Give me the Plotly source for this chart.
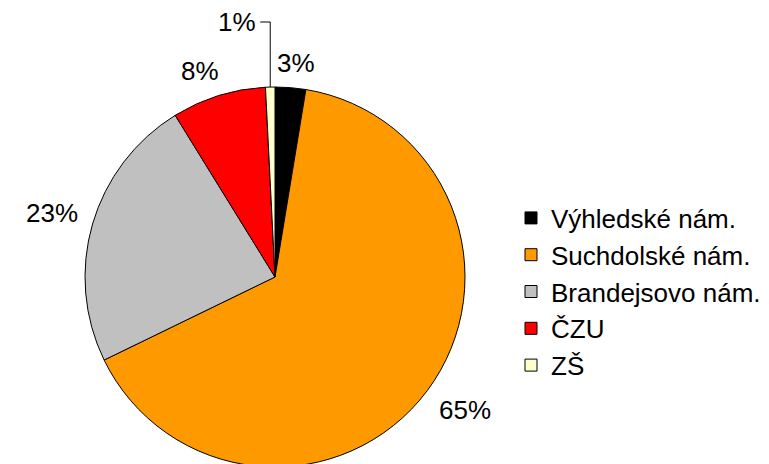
import math
import plotly.graph_objects as go

labels = ["Výhledské nám.", "Suchdolské nám.", "Brandejsovo nám.", "ČZU", "ZŠ"]
values = [2.6, 65.2, 23.4, 8.0, 0.8]
colors = ["#000000", "#FF9900", "#C0C0C0", "#FF0000", "#FFFFCC"]

W, H = 769, 464
OFF = 8  # page body margin in the browser
CX, CY, R = 275 - OFF, 277 - OFF, 190
FONT = "Liberation Sans, Arial, sans-serif"
FS = 26


def px(x):
    return x / W


def py(y):
    return 1 - y / H


def clip(a):
    return max(-1.0, min(1.0, a))


fig = go.Figure(go.Pie(
    labels=labels, values=values, sort=False, direction="clockwise", rotation=0,
    marker=dict(colors=colors, line=dict(color="black", width=1)),
    textinfo="none", hoverinfo="label+percent",
    domain=dict(x=[px(CX - R), px(CX + R)], y=[max(0, py(CY + R)), py(CY - R)]),
))

total = sum(values)
cum = 0
annotations = []
shapes = []
for v in values:
    mid = (cum + v / 2) / total * 2 * math.pi
    cum += v
    ux, uy = math.sin(mid), -math.cos(mid)
    pct = round(v / total * 100)
    txt = f"{pct}%"
    if v / total < 0.015:
        ex, ey = CX + R * ux, CY + R * uy
        ty = CY - R - 65
        shapes.append(dict(type="path", xref="paper", yref="paper",
                           path=f"M {px(ex)} {py(ey)} L {px(ex)} {py(ty)} L {px(ex - 10)} {py(ty)}",
                           line=dict(color="black", width=1)))
        annotations.append(dict(x=px(ex - 12), y=py(ty), xref="paper", yref="paper",
                                text=txt, showarrow=False, xanchor="right", yanchor="middle",
                                font=dict(size=FS, color="black", family=FONT)))
    else:
        gap = 15
        hw = (0.556 * len(str(pct)) + 0.889) * FS / 2
        hh = 10
        tx = CX + (R + gap) * ux + hw * clip(2.5 * ux)
        ty = CY + (R + gap) * uy + hh * clip(2.5 * uy)
        annotations.append(dict(x=px(tx), y=py(ty), xref="paper", yref="paper",
                                text=txt, showarrow=False, xanchor="center", yanchor="middle",
                                font=dict(size=FS, color="black", family=FONT)))

fig.update_layout(
    width=W, height=H,
    margin=dict(l=0, r=0, t=0, b=0),
    paper_bgcolor="white", plot_bgcolor="white",
    font=dict(family=FONT, size=FS, color="black"),
    showlegend=True,
    legend=dict(x=px(511 - OFF), xanchor="left", y=py(292 - OFF), yanchor="middle",
                font=dict(size=FS, family=FONT, color="black"),
                bgcolor="rgba(0,0,0,0)", borderwidth=0),
    annotations=annotations, shapes=shapes,
)

fig.write_html("out.html")
